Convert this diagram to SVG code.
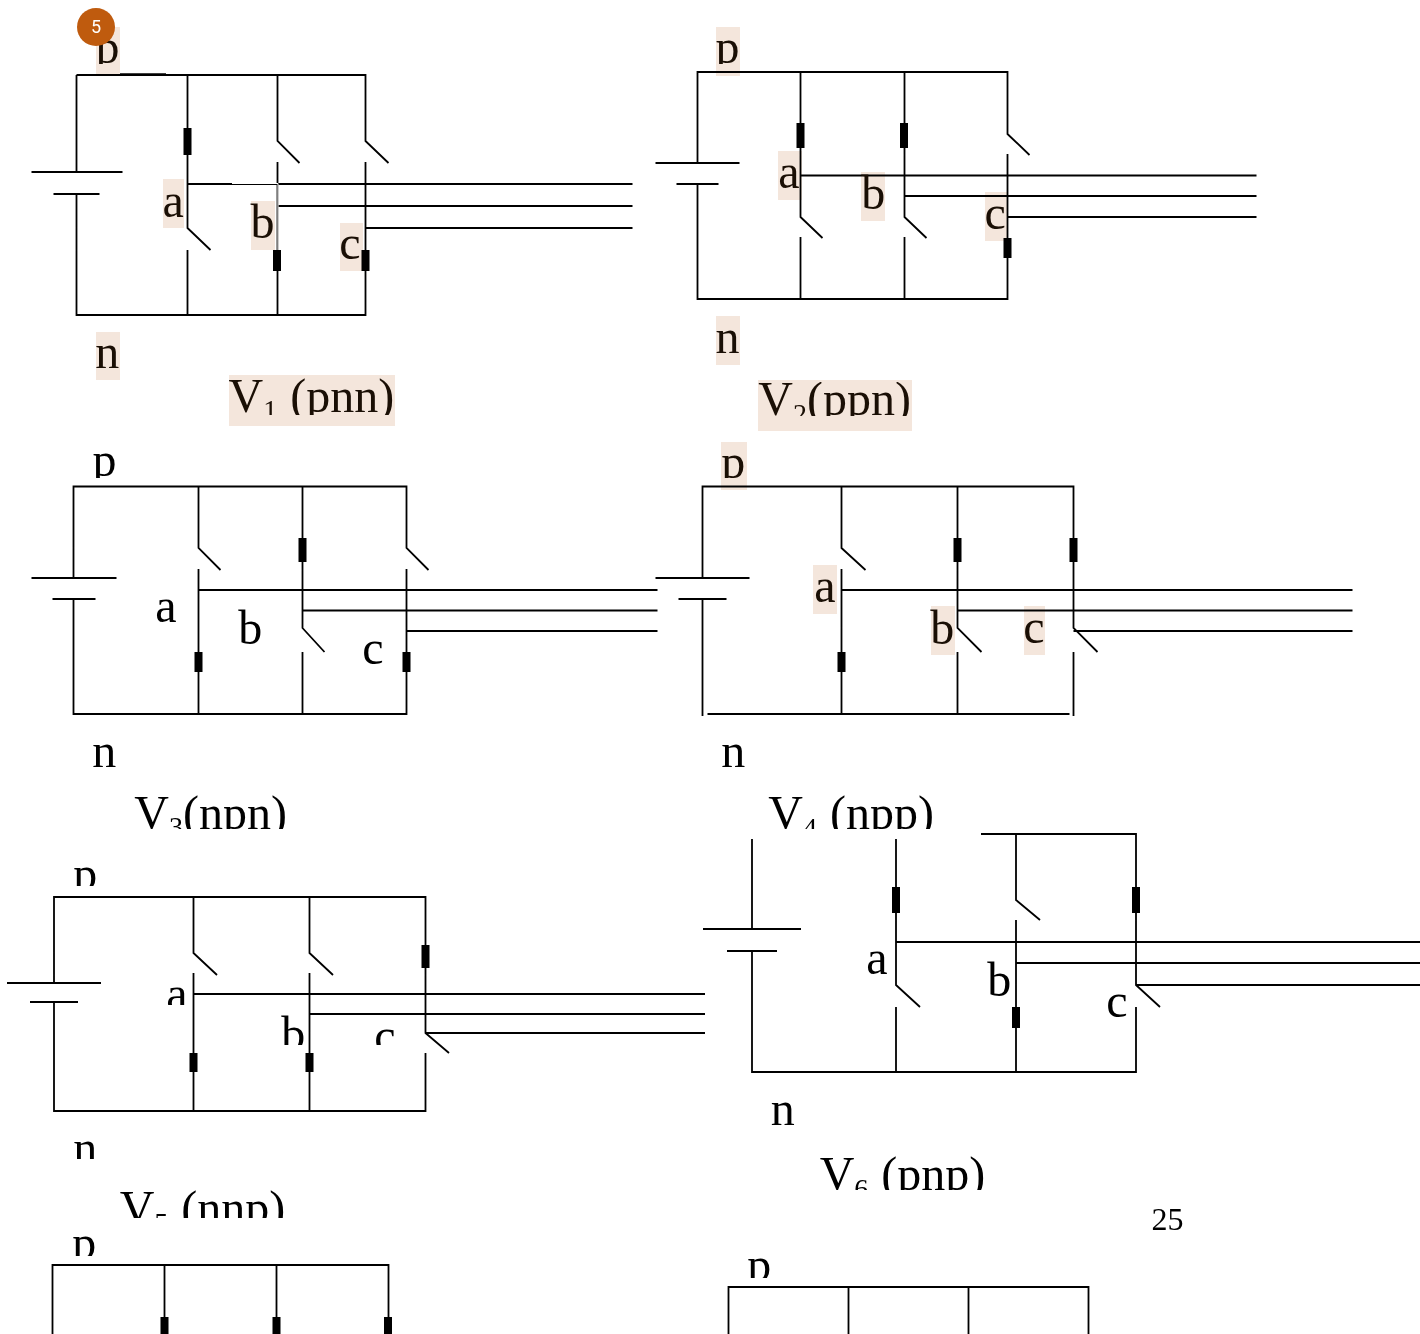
<svg xmlns="http://www.w3.org/2000/svg" width="1420" height="1334" viewBox="0 0 1420 1334">
<style>
.w{fill:none;stroke:#000;stroke-width:1.8}
.blk{fill:#000}
.hl{fill:#f4e6dc;mix-blend-mode:multiply}
.t{font-family:"Liberation Serif","Times New Roman",serif;font-size:48px;fill:#000}
.d{fill:#1a0f05}
.s{font-size:28px}
</style>
<defs>
<clipPath id="c1"><rect x="0" y="0" width="1420" height="64"/></clipPath>
<clipPath id="c3"><rect x="0" y="377" width="1420" height="38"/></clipPath>
<clipPath id="c4"><rect x="0" y="382" width="1420" height="34"/></clipPath>
<clipPath id="c5"><rect x="0" y="440" width="1420" height="38"/></clipPath>
<clipPath id="c6"><rect x="0" y="790" width="1420" height="39"/></clipPath>
<clipPath id="c7"><rect x="0" y="860" width="1420" height="26"/></clipPath>
<clipPath id="c8"><rect x="0" y="970" width="1420" height="35"/></clipPath>
<clipPath id="c9"><rect x="0" y="1000" width="1420" height="45"/></clipPath>
<clipPath id="c10"><rect x="0" y="1125" width="1420" height="34"/></clipPath>
<clipPath id="c11"><rect x="0" y="1185" width="1420" height="33"/></clipPath>
<clipPath id="c12"><rect x="0" y="1225" width="1420" height="31"/></clipPath>
<clipPath id="c13"><rect x="0" y="1250" width="1420" height="28"/></clipPath>
<clipPath id="c14"><rect x="0" y="1150" width="1420" height="40"/></clipPath>
</defs>
<rect width="1420" height="1334" fill="#fff"/>
<g id="connectors">
<g id="wires-v1" transform="translate(0.5 0)"><path class="w" d="M76 75H365V141L388 163M365 162V315H76V194M76 172V75M31 172H122M53 194H99M187 75V228L210 250M187 250V315M277 75V141L299 163M277 162V315M187 184H632M277 206H632M365 228H632"/></g>
<g id="wires-v2" transform="translate(0.5 0)"><path class="w" d="M697 163V72H1007V134L1029 155M1007 154V299H697V184M800 72V217L822 238M800 237V299M904 72V217L926 238M904 237V299M655 163H739M676 184H718M800 175.500H1256M904 196H1256M1007 217H1256"/></g>
<g id="wires-v3" transform="translate(0.5 0)"><path class="w" d="M73 578V486.500H406V548L428 570M406 569V714H73V599M198 486V548L220 570M198 569V714M302 486V628L324 652M302 652V714M31 578H116M52 599H95M198 590H657M302 610.500H657M406 631H657"/></g>
<g id="wires-v4" transform="translate(0.5 0)"><path class="w" d="M702 578V486.500H1073V628L1097 652M1073 652V716M702 599V716M707 714H1069M841 486V548L865 570M841 569V714M957 486V628L981 652M957 652V714M655 578H749M678 599H726M841 590H1352M957 610.500H1352M1073 631H1352"/></g>
<g id="wires-v5"><path class="w" d="M54 983V897H425.500V1033L449 1053M425.500 1053V1111H54V1002M193.500 897V953L217 975M193.500 973V1111M309.500 897V953L333 975M309.500 973V1111M7 983H101M30 1002H78M193.500 994H705M309.500 1014H705M425.500 1033H705"/></g>
<g id="wires-v6"><path class="w" d="M981 834H1136V985L1160 1007M1136 1007V1072H752V951M752 929V839M896 839V985L920 1007M896 1007V1072M1016 834V900L1040 920M1016 920V1072M703 929H801M727 951H777M896 942H1420M1016 963H1420M1136 985H1420"/></g>
<g id="wires-v7" transform="translate(0.5 0)"><path class="w" d="M52 1334V1265H388V1334M164 1265V1334M276 1265V1334"/></g>
<g id="wires-v8" transform="translate(0.5 0)"><path class="w" d="M728 1334V1287H1088V1334M848 1287V1334M968 1287V1334"/></g>
</g>
<g id="retouch-v1"><path d="M120 74.500H166" stroke="#000" stroke-width="2.500"/><path d="M232 183.500H278V250" fill="none" stroke="#fff" stroke-width="1"/></g>
<g id="switch-blocks">
<rect class="blk" x="183.500" y="128" width="8" height="27"/><rect class="blk" x="273" y="250" width="8" height="21"/><rect class="blk" x="361.500" y="250" width="8" height="21"/>
<rect class="blk" x="796.500" y="123" width="8" height="25"/><rect class="blk" x="900" y="123" width="8" height="25"/><rect class="blk" x="1003.500" y="238" width="8" height="20"/>
<rect class="blk" x="194.500" y="652" width="8" height="20"/><rect class="blk" x="298.500" y="538" width="8" height="24"/><rect class="blk" x="402.500" y="652" width="8" height="20"/>
<rect class="blk" x="837.500" y="652" width="8" height="20"/><rect class="blk" x="953.500" y="538" width="8" height="24"/><rect class="blk" x="1069.500" y="538" width="8" height="24"/>
<rect class="blk" x="189.500" y="1053" width="8" height="19"/><rect class="blk" x="305.500" y="1053" width="8" height="19"/><rect class="blk" x="421.500" y="945" width="8" height="23"/>
<rect class="blk" x="892" y="887" width="8" height="26"/><rect class="blk" x="1012" y="1007" width="8" height="21"/><rect class="blk" x="1132" y="887" width="8" height="26"/>
<rect class="blk" x="160.500" y="1317" width="8" height="17"/><rect class="blk" x="272.500" y="1317" width="8" height="17"/><rect class="blk" x="384" y="1317" width="8" height="17"/>
</g>
<g id="labels-v1">
<rect class="hl" x="96" y="27" width="24" height="48"/><text class="t d" x="95.500" y="63" clip-path="url(#c1)">p</text>
<rect class="hl" x="163" y="179" width="21" height="49"/><text class="t d" x="162.500" y="217">a</text>
<rect class="hl" x="251" y="201" width="24" height="49"/><text class="t d" x="250.500" y="238">b</text>
<rect class="hl" x="340" y="223" width="23" height="48"/><text class="t d" x="339.300" y="259">c</text>
<rect class="hl" x="96" y="332" width="24" height="48"/><text class="t d" x="95.300" y="368">n</text>
<rect class="hl" x="229" y="375" width="166" height="51"/><text class="t d" x="228.500" y="412" clip-path="url(#c3)">V<tspan class="s" dy="7">1</tspan><tspan dy="-7" dx="1"> (pnn)</tspan></text>
</g>
<g id="labels-v2">
<rect class="hl" x="716" y="27" width="24" height="49"/><text class="t d" x="715.500" y="63" clip-path="url(#c1)">p</text>
<rect class="hl" x="778" y="151" width="24" height="49"/><text class="t d" x="778.300" y="188">a</text>
<rect class="hl" x="861" y="172" width="24" height="49"/><text class="t d" x="861.300" y="209">b</text>
<rect class="hl" x="985" y="192" width="22" height="49"/><text class="t d" x="984.500" y="229">c</text>
<rect class="hl" x="716" y="316" width="24" height="49"/><text class="t d" x="715.500" y="353">n</text>
<rect class="hl" x="758" y="380" width="154" height="51"/><text class="t d" x="758.300" y="415" clip-path="url(#c4)">V<tspan class="s" dy="8">2</tspan><tspan dy="-8">(ppn)</tspan></text>
</g>
<g id="labels-v3">
<text class="t" x="92.500" y="476" clip-path="url(#c5)">p</text>
<text class="t" x="155.300" y="622">a</text><text class="t" x="238.300" y="644">b</text><text class="t" x="362.300" y="664">c</text>
<text class="t" x="92.300" y="767">n</text>
<text class="t" x="134.300" y="829" clip-path="url(#c6)">V<tspan class="s" dy="7">3</tspan><tspan dy="-7">(npn)</tspan></text>
</g>
<g id="labels-v4">
<rect class="hl" x="721" y="442" width="26" height="48"/><text class="t d" x="721.300" y="478" clip-path="url(#c5)">p</text>
<rect class="hl" x="813" y="565" width="24" height="49"/><text class="t d" x="814.300" y="602">a</text>
<rect class="hl" x="931" y="606" width="24" height="49"/><text class="t d" x="930.300" y="644">b</text>
<rect class="hl" x="1024" y="606" width="21" height="49"/><text class="t d" x="1023.300" y="643">c</text>
<text class="t" x="721.300" y="767">n</text>
<text class="t" x="768.300" y="829" clip-path="url(#c6)">V<tspan class="s" dy="8">4</tspan><tspan dy="-8" dx="1"> (npp)</tspan></text>
</g>
<g id="labels-v5">
<text class="t" x="73.300" y="890" clip-path="url(#c7)">p</text>
<text class="t" x="166.300" y="1010" clip-path="url(#c8)">a</text>
<text class="t" x="281.300" y="1050" clip-path="url(#c9)">b</text><text class="t" x="374.300" y="1052" clip-path="url(#c9)">c</text>
<text class="t" x="73.300" y="1164" clip-path="url(#c10)">n</text>
<text class="t" x="119.700" y="1224" clip-path="url(#c11)">V<tspan class="s" dy="8">5</tspan><tspan dy="-8" dx="1"> (nnp)</tspan></text>
</g>
<g id="labels-v6">
<text class="t" x="866.300" y="974">a</text><text class="t" x="987.300" y="996">b</text><text class="t" x="1106.300" y="1017">c</text>
<text class="t" x="770.700" y="1125">n</text>
<text class="t" x="819.700" y="1190" clip-path="url(#c14)">V<tspan class="s" dy="8">6</tspan><tspan dy="-8" dx="1"> (pnp)</tspan></text>
</g>
<g id="labels-v7"><text class="t" x="72.300" y="1259" clip-path="url(#c12)">p</text></g>
<g id="labels-v8"><text class="t" x="747.300" y="1281" clip-path="url(#c13)">p</text></g>
<g id="page-number"><text class="t" style="font-size:32px" x="1151.500" y="1230">25</text></g>
<g id="badge"><circle cx="96" cy="27" r="19" fill="#bf5b0e"/><text x="96" y="33" text-anchor="middle" fill="#fff" style="font-family:Roboto,sans-serif;font-size:18px">5</text></g>
</svg>
